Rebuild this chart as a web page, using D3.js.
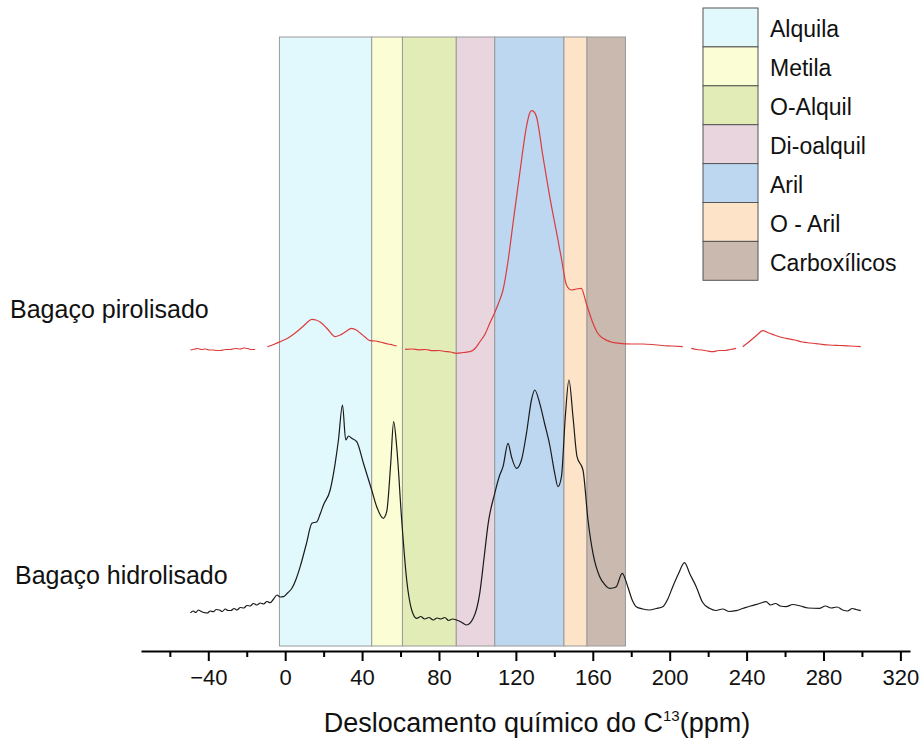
<!DOCTYPE HTML>
<html>
  <head>
    <meta charset="utf-8">
    <title>RMN C13</title>
    <style>
      body { margin: 0; background: #fff; }
      text { font-family: "Liberation Sans", Arial, sans-serif; fill: #111; }
    </style>
  </head>
  <body>
    <script src="https://cdn.jsdelivr.net/npm/d3@7"></script>
    <script>
      // regions (ppm)
      var bandNames = ['Alquila', 'Metila', 'O-Alquil', 'Di-oalquil', 'Aril', 'O - Aril', 'Carboxílicos'];
      var bandStart = [-3, 45, 61, 89, 109, 145, 157];
      var bandEnd = [45, 61, 89, 109, 145, 157, 177];
      var bandColors = ['#e1f8fd', '#fbfdd4', '#e2ecb6', '#e8d5de', '#bdd7f1', '#fde4c9', '#c9b9af'];

      var majorTicks = [-40, 0, 40, 80, 120, 160, 200, 240, 280, 320];
      var minorTicks = [-60, -20, 20, 60, 100, 140, 180, 220, 260, 300];

      // Bagaço pirolisado (red), intensity above its own baseline, null = gap
      var redPpm = [-49.3, -47, -45.5, -43.5, -41.5, -39.5, -37.5, -35.5, -33.7, -31, -28.5, -26, -23.4, -21.5, -19.5, -17.5, -15.6,
        -12.5, -9.3, -6, -2.6, 1.5, 5.2, 9.5, 12, 13.9, 16, 18.2, 22, 26.0, 28.6, 31.2, 34.6, 37, 39.0, 41.5, 44.1, 47, 49.3, 53.5, 56, 58.0,
        60, 62.3, 66, 69.5, 73, 76.8, 80, 83, 86, 89.1, 92.5, 96.1, 99, 101.2, 104, 106.4, 108.9, 111, 113.3, 116, 118.5, 122.0, 125.5, 127, 128.1, 129.5, 130.7, 134.1, 137.6,
        141.9, 144, 146.3, 148.9, 151.5, 154.0, 156.6, 160.1, 162.5, 165.3, 169.5, 173.9, 180, 186.0, 191, 196, 201, 206.8,
        209, 211.2, 214, 216.8, 219.5, 222.4, 225.5, 228.5, 231.5, 234.5,
        236, 238.0, 240.5, 243, 246, 248.3, 251.5, 254.5, 257.5, 260.5, 265, 269, 273, 277.8, 283, 288.5, 294, 299.4];
      var redVal = [0, 1, 1.5, 0.5, 1, 0, 0, -0.5, -0.5, 0.5, 0.5, 1.5, 1, 2, 1.5, 0.5, 0.5,
        null, 3.3, 5.5, 8.3, 12, 17, 24, 28.5, 30.7, 30, 28, 21, 13.3, 15, 18, 21.7, 20, 17, 13, 9.3, 9, 8, 6, 5, 4,
        null, 0.7, 1, 0.2, 0.5, -0.7, -0.5, -1.5, -2, -3.3, -2.5, -1.7, 2, 8, 16, 26.7, 37, 47, 60, 90, 126.7, 176.7, 223.3, 236, 239.3, 238, 233.3, 193.3, 153.3,
        110, 88, 65, 60, 61, 61.7, 46.7, 26.7, 17, 11.7, 8, 6.7, 6, 6, 5.5, 4.5, 4, 3.3,
        null, 1.7, 0.5, 0, -1, -1.7, -0.5, -0.5, 0.5, 1.7,
        null, 3.3, 7, 11, 16, 19.3, 17, 15, 13, 11.7, 10, 8, 7, 6, 5, 4.5, 4, 3.3];

      // Bagaço hidrolisado (black)
      var blackPpm = [-49.3, -47.8, -46.5, -45.2, -44.1, -42.3, -40.5, -39, -37.4, -35.8, -34.2, -32.7, -31.2, -29.7, -28.2, -26.6, -25.1, -23.3, -21.5, -19.9, -18.2, -16.5, -14.7, -13, -11.2, -9.5, -7.8, -6, -4.3, -2.6, -0.9,
        1.2, 3.5, 5.7, 7.8, 11, 13.9, 16.5, 18.2, 19.9, 23.4, 26.0, 27.7, 29.8, 31.5, 33, 34.6, 37.2, 40.7, 45.0, 47.6, 51.0, 52.8, 54.9, 56.4, 58.0,
        60.6, 63.2, 65.8, 68.4, 70.5, 72.5, 74.8, 77.0, 79, 81, 83, 85, 87, 89.1, 91.5, 94.3, 97.8, 101.2, 103.5, 105.6, 109.0, 111.6, 113.3, 115.9, 117.7, 120.3,
        122.9, 125.5, 128.1, 129.8, 132.4, 135, 137.6, 140.2, 141.9, 143.7, 145.7, 147.6, 149.7, 151.8, 154.9, 157.5, 160.1,
        163.6, 166, 168.7, 170.5, 172.2, 175.3, 178.2, 180.5, 182.6, 186, 189.5, 193, 196.4, 199, 201.6, 204.5, 207.7, 210.5, 213.8, 217, 220.7, 224, 227.5, 231, 234.5,
        238, 242, 246, 250.1, 252.5, 255, 257.5, 260.5, 264, 268, 272, 277.8, 281, 284, 287, 290, 292.5, 295, 297, 299.4];
      var blackVal = [-0.7, 1, -0.5, 2, 1, -0.5, -1, 1, 0.3, 2.5, 2, 0.5, 3, 1.5, 1.5, 3.5, 2, 4.5, 4, 6.5, 6, 8.5, 7, 9, 8, 10.5, 9.3, 13, 17, 15, 15.3,
        19, 23.7, 33, 45.3, 68, 88.7, 90.3, 98, 107, 122, 148.7, 172, 207, 172, 176, 173.7, 170.3, 148.7, 122, 105.3, 93.7, 100.3, 148.7, 190.3, 165.3,
        92, 32, 2, -6.3, -4.5, -7, -5.5, -8, -6, -7, -5.5, -8.5, -7, -8, -10, -13, -6.3, 18.7, 55, 88.7, 118.7, 137, 145.3, 168.7, 155.3, 143.7,
        152, 178.7, 212, 222, 208.7, 188, 167, 138.7, 125.3, 135.3, 195.3, 232, 195.3, 155.3, 142, 92, 58.7,
        35.3, 28, 23.7, 24, 25.3, 38.7, 25.3, 12, 5.3, 3, 2, 3.5, 5.3, 13, 25.3, 38, 49.3, 38, 25.3, 10, 3.7, 1.5, 3, 0.5, 1.3,
        3.5, 6, 8, 10.3, 7, 8.5, 6, 5.3, 7.5, 6, 4, 3.7, 6, 4, 5, 2, 1, 3.5, 2.5, 1.3];

      var redOffset = 300,
        blackOffset = 38;

      var width = 920,
        height = 743;

      var svg = d3.select('body').append('svg')
          .attr('width', width)
          .attr('height', height);

      var x = d3.scaleLinear().domain([-75, 325]).range([141, 910]);
      var y = d3.scaleLinear().domain([0, 613]).range([650, 37]);

      // shaded regions
      svg.selectAll('rect.band')
          .data(bandNames)
        .enter().append('rect')
          .attr('class', 'band')
          .attr('x', function(d, i) { return x(bandStart[i]); })
          .attr('width', function(d, i) { return x(bandEnd[i]) - x(bandStart[i]); })
          .attr('y', y(613))
          .attr('height', y(4) - y(613))
          .attr('fill', function(d, i) { return bandColors[i]; })
          .attr('stroke', '#9a9a9a')
          .attr('stroke-width', 1);

      var line = d3.line()
          .defined(function(d) { return d[1] !== null; })
          .curve(d3.curveMonotoneX)
          .x(function(d) { return x(d[0]); });

      svg.append('path')
          .datum(redPpm.map(function(p, i) { return [p, redVal[i]]; }))
          .attr('fill', 'none')
          .attr('stroke', '#dd3b3b')
          .attr('stroke-width', 1.2)
          .attr('d', line.y(function(d) { return y(d[1] + redOffset); }));

      svg.append('path')
          .datum(blackPpm.map(function(p, i) { return [p, blackVal[i]]; }))
          .attr('fill', 'none')
          .attr('stroke', '#1a1a1a')
          .attr('stroke-width', 1.2)
          .attr('d', line.y(function(d) { return y(d[1] + blackOffset); }));

      // x axis
      var axis = svg.append('g')
          .attr('transform', 'translate(0,651)')
          .call(d3.axisBottom(x).tickValues(majorTicks).tickSize(10).tickSizeOuter(0).tickPadding(8));
      axis.select('.domain').attr('stroke-width', 2);
      axis.selectAll('.tick line').attr('stroke-width', 2);
      axis.selectAll('.tick text')
          .style('font-family', '"Liberation Sans", Arial, sans-serif')
          .style('font-size', '22px')
          .attr('fill', '#111');

      var minor = svg.append('g')
          .attr('transform', 'translate(0,651)')
          .call(d3.axisBottom(x).tickValues(minorTicks).tickSize(6).tickSizeOuter(0).tickFormat(''));
      minor.select('.domain').remove();
      minor.selectAll('.tick line').attr('stroke-width', 2);

      var title = svg.append('text')
          .attr('x', 537)
          .attr('y', 732)
          .attr('text-anchor', 'middle')
          .style('font-size', '27px');
      title.append('tspan').text('Deslocamento químico do C');
      title.append('tspan').attr('dy', -11).style('font-size', '15px').text('13');
      title.append('tspan').attr('dy', 11).text('(ppm)');

      // series labels
      svg.append('text')
          .attr('x', 10).attr('y', 318)
          .style('font-size', '25px')
          .text('Bagaço pirolisado');
      svg.append('text')
          .attr('x', 15).attr('y', 584)
          .style('font-size', '25px')
          .text('Bagaço hidrolisado');

      // legend
      var rowH = 38.9;
      var legend = svg.append('g').attr('transform', 'translate(703,8)');
      legend.selectAll('rect')
          .data(bandNames)
        .enter().append('rect')
          .attr('x', 0)
          .attr('y', function(d, i) { return i * rowH; })
          .attr('width', 55)
          .attr('height', rowH)
          .attr('fill', function(d, i) { return bandColors[i]; })
          .attr('stroke', '#555')
          .attr('stroke-width', 1);
      legend.selectAll('text')
          .data(bandNames)
        .enter().append('text')
          .attr('x', 67)
          .attr('y', function(d, i) { return i * rowH + rowH / 2 + 10; })
          .style('font-size', '23px')
          .text(function(d) { return d; });
    </script>
  </body>
</html>
